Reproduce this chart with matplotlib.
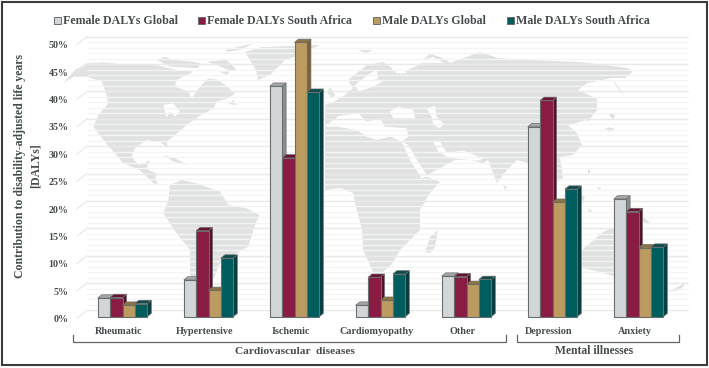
import matplotlib
matplotlib.use("Agg")
import matplotlib.pyplot as plt
from matplotlib.patches import Polygon, Rectangle
from matplotlib.transforms import Affine2D

W, H = 709, 368
categories = ["Rheumatic", "Hypertensive", "Ischemic", "Cardiomyopathy", "Other", "Depression", "Anxiety"]
female_global = [3.4, 6.7, 42.1, 2.1, 7.4, 34.7, 21.5]
female_sa = [3.5, 15.7, 29.0, 7.2, 7.3, 39.5, 19.2]
male_global = [2.1, 4.8, 50.1, 3.0, 5.9, 20.9, 12.6]
male_sa = [2.4, 10.7, 41.0, 7.8, 6.8, 23.3, 12.7]
series_names = ["Female DALYs Global", "Female DALYs South Africa", "Male DALYs Global", "Male DALYs South Africa"]
y_ticks = list(range(0, 55, 5))

series = [female_global, female_sa, male_global, male_sa]
front = ["#d2d6d9", "#8a1c44", "#bb9b60", "#005d5e"]
side = ["#8b8e90", "#560d2a", "#7d6238", "#063d41"]
top = ["#a6a9aa", "#6a1233", "#8f7340", "#0b4a4d"]
edge = "#6a6d6e"
text_c = "#454b4c"
serif = "Liberation Serif"

PX_X, PX_Y = 86.0, 5.474
X0, Y0 = 122.5, 316.7
fig = plt.figure(figsize=(W / 100, H / 100), dpi=100, facecolor="white")
ax = fig.add_axes([0, 0, 1, 1])
ax.set_xlim(-X0 / PX_X, (W - X0) / PX_X)
ax.set_ylim((Y0 - H) / PX_Y, Y0 / PX_Y)
ax.axis("off")
px = Affine2D().scale(1, -1).translate(0, H)  # decoration placed in picture pixels


def land(points, color="#e0e1e1", z=1):
    ax.add_patch(Polygon(points, closed=True, fc=color, ec="none", transform=px, zorder=z))


def zoomed(ox, oy, pts):
    return [(ox + a / 3, oy + b / 3) for a, b in pts]


# ---- background world map (decoration) ----
north_america = zoomed(60, 30, [(10, 160), (45, 120), (80, 100), (130, 97), (200, 105), (290, 105), (340, 118), (400, 125),
    (350, 150), (345, 170), (385, 185), (395, 205), (420, 170), (445, 145), (475, 150), (495, 165), (525, 190),
    (505, 205), (470, 215), (460, 235), (415, 260), (380, 285), (340, 320), (320, 335), (325, 355), (300, 335),
    (260, 330), (225, 355), (215, 380), (235, 405), (270, 395), (255, 415), (290, 430), (285, 452), (240, 420),
    (190, 400), (160, 365), (130, 330), (100, 290), (115, 255), (145, 220), (135, 180), (125, 155), (80, 140), (40, 140)])
land(north_america)
for isle in ([(290, 90), (315, 80), (340, 90), (400, 95), (420, 100), (415, 115), (330, 110)],
             [(440, 95), (500, 90), (530, 120), (505, 120), (470, 105)],
             [(480, 125), (510, 125), (500, 135)],
             [(495, 60), (580, 40), (540, 60), (505, 65)],
             [(310, 375), (345, 385), (385, 405), (340, 395)],
             [(505, 222), (520, 210), (530, 225)]):
    land(zoomed(60, 30, isle))
land(zoomed(60, 30, [(310, 225), (340, 220), (360, 245), (345, 260), (330, 245), (320, 262), (315, 245)]), "white")
land([(245, 52), (262, 47), (320, 45), (300, 55), (285, 60), (270, 75), (258, 80), (256, 70), (250, 60)])
land(zoomed(140, 150, [(0, 45), (30, 30), (20, 55), (45, 85), (55, 105), (40, 100), (10, 70), (0, 60)]))
land(zoomed(140, 150, [(90, 105), (125, 90), (170, 100), (240, 125), (265, 165), (320, 175), (358, 195), (340, 240),
    (325, 290), (280, 315), (240, 340), (215, 400), (190, 470), (165, 440), (150, 370), (150, 300), (110, 250), (70, 190), (85, 150)]))
eurasia = [(348, 80), (367, 65), (383, 62), (392, 68), (403, 72), (423, 63), (450, 63), (480, 52), (498, 58), (530, 60),
    (580, 62), (628, 68), (633, 72), (625, 78), (612, 78), (603, 80), (590, 83), (578, 90), (597, 98), (597, 110),
    (587, 123), (568, 125), (577, 133), (582, 145), (573, 155), (560, 157), (563, 178), (557, 182), (552, 165), (535, 165),
    (517, 160), (507, 170), (497, 183), (488, 160), (483, 163), (470, 160), (455, 160), (427, 175), (405, 145), (405, 128),
    (325, 128), (325, 105), (333, 102), (345, 95), (353, 88)]
land(eurasia)
land([(325, 128), (345, 118), (405, 130), (410, 160), (423, 175), (440, 182), (430, 193), (420, 210), (420, 230),
    (400, 250), (393, 263), (383, 272), (373, 272), (363, 250), (362, 230), (355, 203), (353, 193), (340, 188), (325, 190)])
land([(582, 250), (603, 232), (613, 228), (625, 235), (640, 245), (655, 250), (660, 270), (640, 285), (610, 275), (600, 272), (582, 268)])
land([(640, 215), (652, 224), (645, 224)])
land([(425, 252), (430, 237), (438, 230), (435, 247), (430, 253)])
land([(668, 292), (687, 282), (680, 290)])
for isle in ([(330, 87), (335, 95), (332, 98), (327, 93)], [(358, 50), (373, 50), (366, 53)],
             [(422, 60), (430, 54), (443, 58), (455, 66), (450, 66), (433, 57)], [(613, 80), (625, 97), (617, 87)],
             [(608, 113), (615, 115), (613, 120)], [(608, 127), (615, 130), (608, 132)], [(503, 185), (507, 187), (505, 190)],
             [(588, 167), (591, 173), (588, 173)], [(597, 187), (602, 188), (599, 190)], [(580, 192), (585, 197), (582, 203)],
             [(588, 208), (593, 212), (589, 212)]):
    land(isle)
for sea in ([(165, 290), (205, 258), (265, 250), (290, 275), (330, 265), (345, 290), (410, 295), (415, 320), (395, 335), (360, 320),
             (320, 330), (290, 320), (260, 300), (200, 290)],
            [(360, 245), (385, 230), (430, 240), (435, 265), (370, 265)],
            [(470, 235), (495, 228), (500, 260), (520, 280), (510, 295), (490, 285), (485, 260)],
            [(255, 165), (300, 130), (320, 120), (325, 145), (300, 155), (345, 150), (310, 170), (265, 185)],
            [(490, 335), (510, 335), (530, 368), (580, 362), (640, 385), (625, 392), (540, 385), (505, 365)],
            [(395, 335), (415, 345), (470, 440), (455, 445), (420, 390)],
            [(365, 115), (400, 110), (410, 130), (380, 130)]):
    land(zoomed(270, 30, sea), "white")
land(zoomed(480, 30, [(265, 285), (320, 270), (340, 290), (365, 300), (350, 310), (310, 305)]), "white")
land(zoomed(480, 30, [(295, 180), (320, 160), (370, 150), (395, 145), (400, 175), (430, 205), (400, 190), (350, 205)]), "white")
land(zoomed(480, 30, [(400, 150), (435, 200), (410, 170)]), z=1.1)
land(zoomed(480, 30, [(385, 250), (405, 255), (400, 270)]), z=1.1)
land(zoomed(480, 30, [(375, 295), (405, 295), (385, 305)]), z=1.1)

# ---- grid ----
back_dx, back_dy = 10 / PX_X, 6.3 / PX_Y
xl = (87 - X0) / PX_X
xr = (688 - X0) / PX_X
for v in range(0, 51):
    ax.plot([xl, xr], [v + back_dy] * 2, color="#f4f4f4", lw=0.95, zorder=2, solid_capstyle="butt")
for v in y_ticks:
    ax.plot([xl, xr], [v + back_dy] * 2, color="#e9e9e9", lw=1.0, zorder=2.1, solid_capstyle="butt")
    ax.plot([xl - back_dx, xl], [v - 1.5 / PX_Y, v + back_dy], color="#e9e9e9", lw=0.9, zorder=2.1)
    ax.annotate(f"{v}%", (xl - back_dx, v), xytext=(-6, -2.8 * 0.72), textcoords="offset points", ha="right", va="center",
                family=serif, weight="bold", fontsize=7.2, color=text_c, zorder=6)

# ---- bars ----
bw = 12.4 / PX_X
dx, dy = 4.0 / PX_X, 3.3 / PX_Y
z = 3
for i in range(len(categories)):
    for s, vals in enumerate(series):
        v = vals[i]
        x0 = i + (s - 2) * bw
        x1 = x0 + bw
        ax.add_patch(Polygon([(x1, 0), (x1 + dx, dy), (x1 + dx, v + dy), (x1, v)], fc=side[s], ec=edge, lw=0.5, zorder=z))
        ax.add_patch(Polygon([(x0, v), (x0 + dx, v + dy), (x1 + dx, v + dy), (x1, v)], fc=top[s], ec=edge, lw=0.5, zorder=z))
        ax.bar(x0, v, width=bw, align="edge", color=front[s], edgecolor=edge, linewidth=0.8, zorder=z + 0.01)
        z += 0.02

# ---- category labels ----
for i, c in enumerate(categories):
    ax.annotate(c, (i, 0), xytext=(-3.5 * 0.72, -14.5 * 0.72), textcoords="offset points", ha="center", va="center",
                family=serif, weight="bold", fontsize=7.25, color=text_c)

# ---- brackets ----
for a, b in ((73, 506), (517, 679)):
    ax.plot([a, a, b, b], [335, 341.5, 341.5, 335], color="#60666a", lw=0.9, transform=px, zorder=5)
ax.text(294.5, 351, "Cardiovascular  diseases", transform=px, ha="center", va="center", family=serif, weight="bold",
        fontsize=8.2, color=text_c)
ax.text(594.5, 351, "Mental illnesses", transform=px, ha="center", va="center", family=serif, weight="bold",
        fontsize=8.4, color=text_c)

# ---- y label ----
ax.text(20, 165.5, "Contribution to disability-adjusted life years", transform=px, rotation=90, ha="center", va="center",
        family=serif, weight="bold", fontsize=8.5, color=text_c)
ax.text(35.5, 166, "[DALYs]", transform=px, rotation=90, ha="center", va="center", family=serif, weight="bold",
        fontsize=8.5, color=text_c)

# ---- legend ----
for s, (name, sq) in enumerate(zip(series_names, (54, 198, 373, 507))):
    ax.add_patch(Rectangle((sq, 17), 6.5, 6.5, transform=px, fc=front[s], ec=edge, lw=0.7, zorder=6))
    ax.text(sq + 9, 20.5, name, transform=px, ha="left", va="center", family=serif, weight="bold", fontsize=8.55,
            color=text_c)

# ---- frame ----
ax.add_patch(Rectangle((1.5, 1.5), 705, 363.5, transform=px, fc="none", ec="#3a3d3e", lw=1.5, zorder=8, clip_on=False))

fig.savefig("out.png", dpi=100, facecolor="white")
